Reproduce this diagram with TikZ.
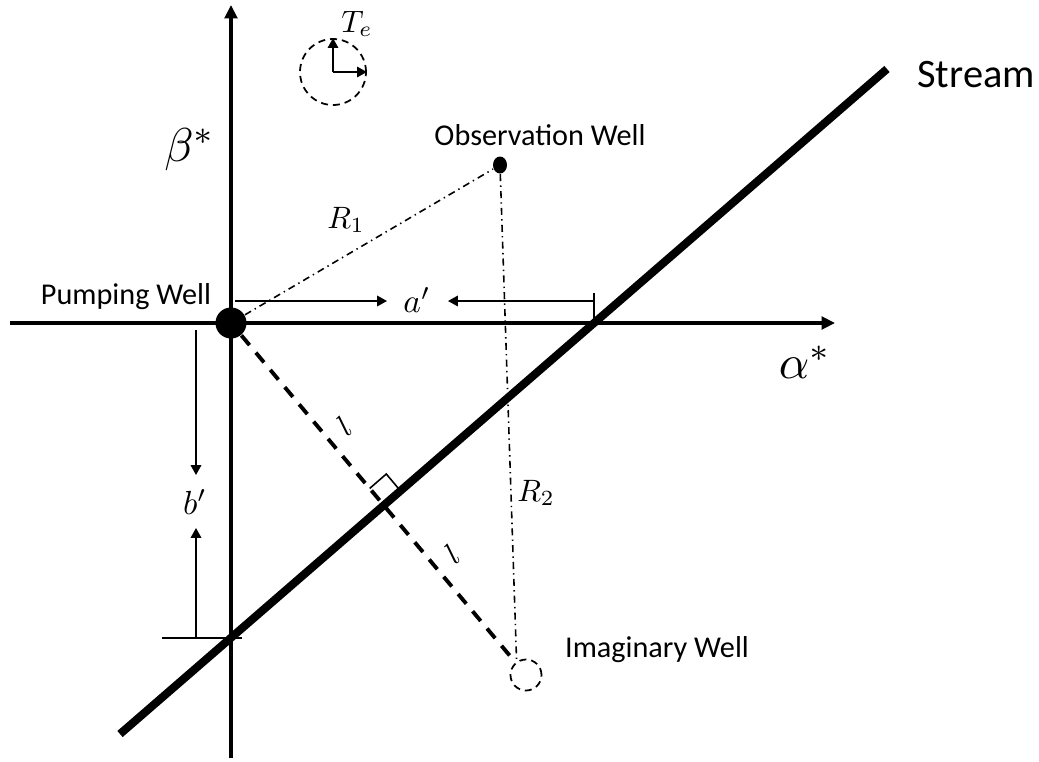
\documentclass[tikz,border=0pt]{standalone}
\usepackage{fontspec}
\setmainfont{Carlito}
\usepackage{tikz}
\usetikzlibrary{positioning}
\usetikzlibrary{calc}
\usetikzlibrary{arrows.meta}
\usetikzlibrary{shapes.geometric}
\usepackage{amsmath}
\tikzset{
  axisline/.style={line width=0.9pt,-{Triangle[length=3.8pt,width=3.6pt]}},
  dimline/.style={line width=0.45pt},
  dimarrow/.style={line width=0.45pt,-{Triangle[length=2.8pt,width=3pt]}},
  dashdot/.style={line width=0.45pt,dash pattern=on 2pt off 1.2pt on 0.4pt off 1.2pt},
  wellnode/.style={circle,inner sep=0pt,minimum size=0.31cm},
  thindash/.style={line width=0.5pt,dash pattern=on 2pt off 1.4pt},
  wlabel/.style={font=\fontsize{8.6}{10}\selectfont},
  mlabel/.style={scale=0.88},
}
\begin{document}
\begin{tikzpicture}
    \useasboundingbox (0,0) rectangle (10.39,7.61);
    % axes
    \draw[axisline] (2.31,0.03) -- (2.31,7.56);
    \draw[axisline] (0.10,4.38) -- (8.35,4.38);
    \node[scale=1.35] (beta) at (1.90,6.11) {$\beta^*$};
    \node[scale=1.35] (alpha) at (8.05,3.99) {$\alpha^*$};

    % stream
    \coordinate (s1) at (1.20,0.27);
    \coordinate (s2) at (8.87,6.92);
    \draw[line width=2.3pt] (s1) -- (s2);
    \node[anchor=west,font=\fontsize{11.5}{13}\selectfont] (stream) at (9.05,6.86) {Stream};
    \coordinate (xa) at (5.94,4.38);
    \coordinate (xb) at (2.31,1.23);

    % wells
    \node[wellnode,fill=black] (pw) at (2.31,4.38) {};
    \node[ellipse,fill=black,inner sep=0pt,minimum width=0.14cm,minimum height=0.17cm] (ow) at (5.00,5.96) {};
    \node[wellnode,draw,thindash] (iw) at (5.26,0.86) {};
    \node[wlabel] (pwl) at (1.26,4.64) {Pumping Well};
    \node[wlabel] (owl) at (5.40,6.26) {Observation Well};
    \node[wlabel] (iwl) at (6.57,1.11) {Imaginary Well};

    % distances
    \draw[dashdot] (pw) -- (ow);
    \draw[dashdot] (ow) -- (iw.125);
    \draw[line width=1.1pt,dash pattern=on 3.6pt off 2.8pt] (pw) -- (iw);
    \node[mlabel] (r1) at (3.46,5.41) {$R_1$};
    \node[mlabel] (r2) at (5.36,2.68) {$R_2$};
    \node[mlabel,rotate=40] (l1) at (3.44,3.35) {$l$};
    \node[mlabel,rotate=40] (l2) at (4.52,2.07) {$l$};

    % right angle
    \coordinate (ft) at (intersection of pw--iw and s1--s2);
    \coordinate (ra) at ($(ft)!0.22cm!(pw)$);
    \coordinate (rb) at ($(ft)!0.22cm!(s2)$);
    \draw[dimline] (ra) -- ($(ra)+(rb)-(ft)$) -- (rb);

    % a' and b'
    \node[scale=0.95] (la) at (4.17,4.61) {$a'$};
    \draw[dimarrow] (2.35,4.60) -- (3.87,4.60);
    \draw[dimarrow] (5.94,4.60) -- (4.48,4.60);
    \draw[dimline] (5.94,4.68) -- (xa);
    \node[scale=0.95] (lb) at (1.95,2.59) {$b'$};
    \draw[dimarrow] (1.96,4.31) -- (1.96,2.86);
    \draw[dimarrow] (1.96,1.23) -- (1.96,2.33);
    \draw[dimline] (1.62,1.23) -- (2.42,1.23);

    % time axes
    \node[circle,draw,thindash,inner sep=0pt,minimum size=0.66cm] (te) at (3.33,6.89) {};
    \draw[dimarrow] (te.center) -- (te.north);
    \draw[dimarrow] (te.center) -- (te.east);
    \node[mlabel] (tel) at (3.57,7.37) {$T_e$};
\end{tikzpicture}
\end{document}
